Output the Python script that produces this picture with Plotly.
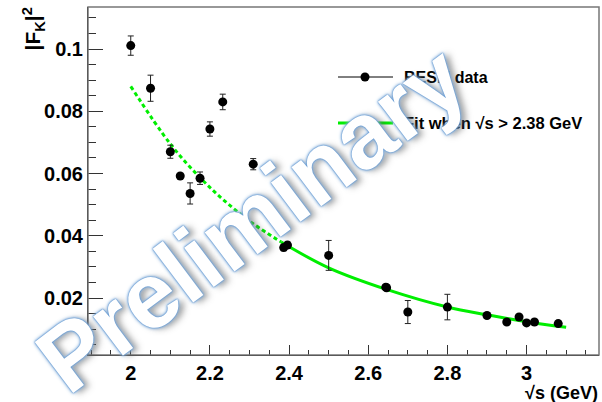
import plotly.graph_objects as go

# Measured kaon form factor |F_K|^2 versus centre-of-mass energy
sqrt_s = [2.0, 2.05, 2.1, 2.125, 2.15, 2.175, 2.2, 2.2324, 2.3094, 2.3864, 2.396,
          2.5, 2.6444, 2.6464, 2.7, 2.8, 2.9, 2.95, 2.981, 3.0, 3.02, 3.08]
ff_sq = [0.1011, 0.0874, 0.0670, 0.0592, 0.0536, 0.0585, 0.0743, 0.0830, 0.0630, 0.0362, 0.0370,
         0.0337, 0.0235, 0.0233, 0.0155, 0.0171, 0.0144, 0.0123, 0.0139, 0.0120, 0.0123, 0.0118]
ff_err = [0.0031, 0.0042, 0.0021, 0.0008, 0.0034, 0.0020, 0.0023, 0.0025, 0.0018, 0.0010, 0.0010,
          0.0048, 0.0008, 0.0008, 0.0037, 0.0041, 0.0008, 0.0008, 0.0008, 0.0008, 0.0008, 0.0008]

# Fit curve: extrapolated part (dashed) and fitted range sqrt(s) > 2.38 GeV (solid)
fit_x_low = [2.0, 2.1, 2.175, 2.24, 2.31, 2.38]
fit_y_low = [0.0880, 0.0695, 0.0587, 0.0509, 0.0438, 0.0380]
fit_x_high = [2.38, 2.5, 2.65, 2.8, 2.9, 3.0, 3.1]
fit_y_high = [0.0380, 0.0297, 0.0226, 0.0171, 0.0146, 0.0124, 0.0106]

x_range = [1.892, 3.183]
y_range = [0.0017, 0.1135]

W, H = 602, 402
ML, MR, MT, MB = 88, 3, 7, 47


def px(x):
    return (x - ML) / (W - ML - MR)


def py(y):
    return (H - MB - y) / (H - MT - MB)


GREEN = "#00ee00"
FONT = "Liberation Sans"

fig = go.Figure()
fig.add_trace(go.Scatter(
    x=fit_x_low, y=fit_y_low, mode="lines",
    line=dict(color=GREEN, width=3, dash="4px,3px", shape="spline"),
    hoverinfo="skip", showlegend=False))
fig.add_trace(go.Scatter(
    x=fit_x_high, y=fit_y_high, mode="lines",
    line=dict(color=GREEN, width=3, shape="spline"),
    hoverinfo="skip", showlegend=False))
fig.add_trace(go.Scatter(
    x=sqrt_s, y=ff_sq, mode="markers",
    marker=dict(color="black", size=9),
    error_y=dict(type="data", array=ff_err, color="#222222", thickness=1, width=3),
    showlegend=False))

tickfont = dict(family=FONT, size=20, color="black", weight="bold")

fig.update_xaxes(
    range=x_range, tickmode="linear", tick0=2, dtick=0.2,
    ticks="inside", ticklen=10, tickcolor="#333333", tickwidth=1,
    showline=True, linecolor="black", linewidth=1,
    showgrid=False, zeroline=False, tickfont=tickfont,
    minor=dict(ticks="inside", ticklen=5, tick0=2, dtick=0.05, tickcolor="#333333"))
fig.update_yaxes(
    range=y_range, tickmode="linear", tick0=0, dtick=0.02,
    ticks="inside", ticklen=15, tickcolor="#333333", tickwidth=1,
    showline=True, linecolor="black", linewidth=1,
    showgrid=False, zeroline=False, tickfont=tickfont,
    minor=dict(ticks="inside", ticklen=8, tick0=0, dtick=0.005, tickcolor="#333333"))

shapes = [
    # frame
    dict(type="rect", xref="paper", yref="paper", x0=0, x1=1, y0=0, y1=1,
         line=dict(color="#777777", width=1.5)),
    # legend glyphs
    dict(type="line", xref="paper", yref="paper", x0=px(338), x1=px(393), y0=py(77), y1=py(77),
         line=dict(color="black", width=1)),
    dict(type="circle", xref="paper", yref="paper", x0=px(360.5), x1=px(369.5),
         y0=py(81.5), y1=py(72.5), fillcolor="black", line=dict(color="black", width=0)),
    dict(type="line", xref="paper", yref="paper", x0=px(338), x1=px(393), y0=py(123), y1=py(123),
         line=dict(color=GREEN, width=3)),
]

annotations = [
    dict(text="|F<sub>K</sub>|<sup>2</sup>", xref="paper", yref="paper",
         x=px(33), y=py(6), xanchor="center", yanchor="top", textangle=-90, showarrow=False,
         font=dict(family=FONT, size=21, color="black", weight="bold")),
    dict(text="√s (GeV)", xref="paper", yref="paper",
         x=px(600), y=py(393), xanchor="right", yanchor="middle", showarrow=False,
         font=dict(family=FONT, size=18, color="black", weight="bold")),
    dict(text="BESIII data", xref="paper", yref="paper",
         x=px(402), y=py(77), xanchor="left", yanchor="middle", showarrow=False,
         font=dict(family=FONT, size=16, color="black", weight="bold")),
    dict(text="Fit when √s > 2.38 GeV", xref="paper", yref="paper",
         x=px(402), y=py(123), xanchor="left", yanchor="middle", showarrow=False,
         font=dict(family=FONT, size=16.5, color="black", weight="bold")),
    # watermark
    dict(text="Preliminary", xref="paper", yref="paper",
         x=px(251), y=py(219), xanchor="center", yanchor="middle", textangle=-37, showarrow=False,
         font=dict(family=FONT, size=93, color="white", weight="bold",
                   shadow="0 0 1px #4f8ccc, 0 0 2px #5b93cf, 0 0 3px #7eaddf, 0 0 4px #a3c4e8, "
                          "4px 4px 6px rgba(70,70,70,0.5)")),
]

fig.update_layout(
    width=W, height=H,
    margin=dict(l=ML, r=MR, t=MT, b=MB),
    paper_bgcolor="white", plot_bgcolor="white",
    shapes=shapes, annotations=annotations,
    showlegend=False,
)

fig.write_html("out.html")
